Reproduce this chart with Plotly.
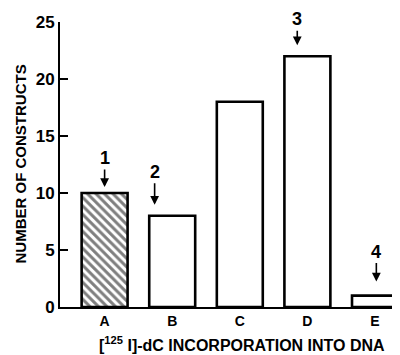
import plotly.graph_objects as go

categories = ["A", "B", "C", "D", "E"]
counts = [10, 8, 18, 22, 1]
y_ticks = [0, 5, 10, 15, 20, 25]
x_title = "[<sup>125</sup> I]-dC INCORPORATION INTO DNA"
y_title = "NUMBER OF CONSTRUCTS"

# arrow annotations
arrow_labels = ["1", "2", "3", "4"]
arrow_bars = [0, 1, 3, 4]
arrow_dx = [0.0, -0.26, -0.15, 0.02]
arrow_standoff = [6, 11, 11, 14]
arrow_ay = [-35, -44, -37, -44]

FONT = "Liberation Sans, Arial, sans-serif"

x_idx = list(range(len(categories)))

fig = go.Figure()
fig.add_trace(go.Bar(
    x=x_idx, y=counts, width=0.68,
    marker=dict(
        color="white",
        line=dict(color="black", width=2.6),
        pattern=dict(
            shape=["\\", "", "", "", ""],
            fgcolor="black", bgcolor="white", size=6, solidity=0.5,
        ),
    ),
    showlegend=False,
))

for lab, bi, dx, so, ay in zip(arrow_labels, arrow_bars, arrow_dx, arrow_standoff, arrow_ay):
    fig.add_annotation(
        x=bi + dx, y=counts[bi], xref="x", yref="y",
        text=lab, showarrow=True, arrowhead=2, arrowsize=1.1, arrowwidth=1.6,
        arrowcolor="black", ax=0, ay=ay, standoff=so,
        font=dict(family=FONT, size=18, color="black", weight="bold"),
    )

# axis titles as annotations for exact placement
fig.add_annotation(
    text=x_title, xref="paper", yref="paper", x=0.535, y=0,
    xanchor="center", yanchor="middle", yshift=-37, showarrow=False,
    font=dict(family=FONT, size=16, color="black", weight="bold"),
)
fig.add_annotation(
    text=y_title, xref="paper", yref="paper", x=0, y=0.5,
    xanchor="center", yanchor="middle", xshift=-40, textangle=-90, showarrow=False,
    font=dict(family=FONT, size=15, color="black", weight="bold"),
)

# the page body has an 8px default margin, so the figure is sized to fill the rest
fig.update_layout(
    width=392, height=347,
    margin=dict(l=52, r=0, t=14, b=48, autoexpand=False),
    paper_bgcolor="white", plot_bgcolor="white",
    font=dict(family=FONT, color="black"),
    xaxis=dict(
        range=[-0.66, 4.37], automargin=False,
        tickmode="array", tickvals=x_idx, ticktext=categories,
        showline=True, linecolor="black", linewidth=2,
        ticks="", showgrid=False, zeroline=False,
        tickfont=dict(family=FONT, size=14, color="black", weight="bold"),
    ),
    yaxis=dict(
        range=[0, 25], automargin=False,
        tickmode="array", tickvals=y_ticks,
        showline=True, linecolor="black", linewidth=2,
        ticks="inside", ticklen=8, tickwidth=2, tickcolor="black",
        showgrid=False, zeroline=False,
        tickfont=dict(family=FONT, size=17, color="black", weight="bold"),
    ),
)

fig.write_html("out.html")
